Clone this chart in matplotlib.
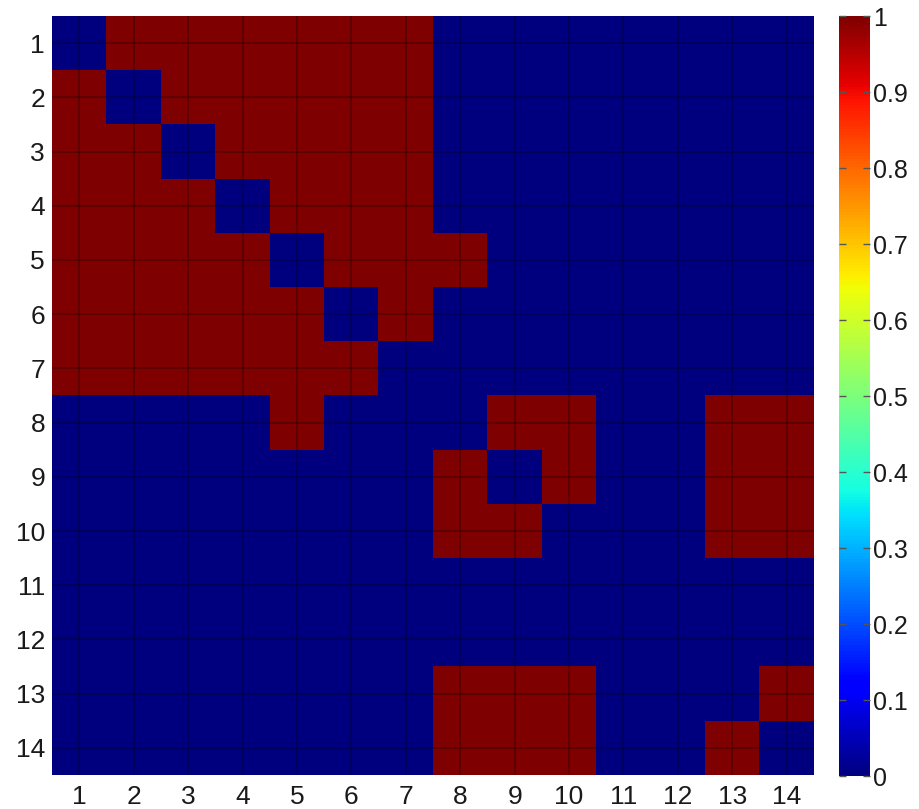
import numpy as np
import matplotlib
matplotlib.use("Agg")
import matplotlib.pyplot as plt

# 14x14 binary matrix
rows = [
    [0, 1, 1, 1, 1, 1, 1, 0, 0, 0, 0, 0, 0, 0],
    [1, 0, 1, 1, 1, 1, 1, 0, 0, 0, 0, 0, 0, 0],
    [1, 1, 0, 1, 1, 1, 1, 0, 0, 0, 0, 0, 0, 0],
    [1, 1, 1, 0, 1, 1, 1, 0, 0, 0, 0, 0, 0, 0],
    [1, 1, 1, 1, 0, 1, 1, 1, 0, 0, 0, 0, 0, 0],
    [1, 1, 1, 1, 1, 0, 1, 0, 0, 0, 0, 0, 0, 0],
    [1, 1, 1, 1, 1, 1, 0, 0, 0, 0, 0, 0, 0, 0],
    [0, 0, 0, 0, 1, 0, 0, 0, 1, 1, 0, 0, 1, 1],
    [0, 0, 0, 0, 0, 0, 0, 1, 0, 1, 0, 0, 1, 1],
    [0, 0, 0, 0, 0, 0, 0, 1, 1, 0, 0, 0, 1, 1],
    [0, 0, 0, 0, 0, 0, 0, 0, 0, 0, 0, 0, 0, 0],
    [0, 0, 0, 0, 0, 0, 0, 0, 0, 0, 0, 0, 0, 0],
    [0, 0, 0, 0, 0, 0, 0, 1, 1, 1, 0, 0, 0, 1],
    [0, 0, 0, 0, 0, 0, 0, 1, 1, 1, 0, 0, 1, 0],
]
labels = [str(i) for i in range(1, 15)]
cbar_ticks = [0, 0.1, 0.2, 0.3, 0.4, 0.5, 0.6, 0.7, 0.8, 0.9, 1]
cbar_labels = ["0", "0.1", "0.2", "0.3", "0.4", "0.5", "0.6", "0.7", "0.8", "0.9", "1"]

plt.rcParams['font.family'] = ['Liberation Sans', 'DejaVu Sans']

W, H = 919, 809
fig = plt.figure(figsize=(W / 100, H / 100), dpi=100)

ax = fig.add_axes([52 / W, (H - 775) / H, (814 - 52) / W, (775 - 16) / H])
mat = np.array(rows)
im = ax.imshow(mat, cmap='jet', vmin=0, vmax=1, aspect='auto',
               interpolation='nearest')

ax.set_xticks(range(len(labels)))
ax.set_yticks(range(len(labels)))
ax.set_xticklabels(labels, color='#1a1a1a')
ax.set_yticklabels(labels, color='#1a1a1a')
ax.tick_params(length=0, labelsize=19)
ax.tick_params(axis='x', pad=7)
ax.tick_params(axis='y', pad=5)
ax.grid(True, color='black', linewidth=1.2, alpha=0.3)
for s in ax.spines.values():
    s.set_visible(False)

cax = fig.add_axes([839 / W, (H - 776) / H, (870 - 839) / W, (776 - 16) / H])
cb = fig.colorbar(im, cax=cax, ticks=cbar_ticks)
cb.ax.set_yticklabels(cbar_labels, color='#1a1a1a')
cb.ax.tick_params(labelsize=18, length=5, direction='in', color='#555555',
                  width=1, pad=2, left=True)
cb.outline.set_visible(False)

fig.savefig('out.png', dpi=100)
